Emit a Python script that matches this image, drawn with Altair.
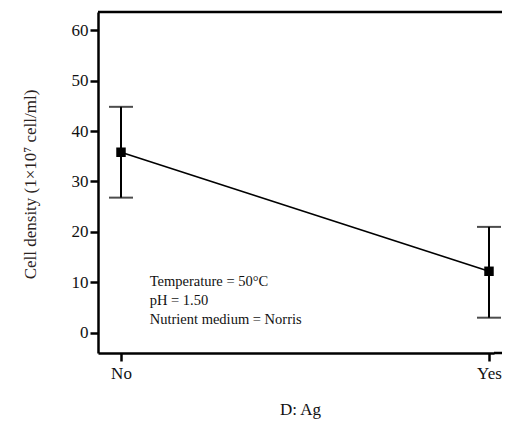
import altair as alt
import pandas as pd

groups = ["No", "Yes"]
group_pos = [0, 1]
means = [35.8, 12.2]
lows = [26.8, 3.0]
highs = [44.8, 21.0]

notes = ["Temperature = 50°C", "pH = 1.50", "Nutrient medium = Norris"]
note_x = [0.078, 0.078, 0.078]
note_y = [10.0, 6.3, 2.6]

df = pd.DataFrame({"g": groups, "x": group_pos, "m": means, "lo": lows, "hi": highs})
nd = pd.DataFrame({"t": notes, "x": note_x, "y": note_y})

FONT = "Liberation Serif"
W, H = 396, 341
xs = alt.Scale(domain=[-0.0625, 1.0136], nice=False, zero=False)
ys = alt.Scale(domain=[-4, 63.6], nice=False, zero=False)

xax = alt.Axis(values=[0, 1], labelExpr="datum.value == 0 ? 'No' : 'Yes'", title="D: Ag",
               grid=False, domain=True, domainColor="black", domainWidth=2.5,
               tickColor="black", tickWidth=2.5, tickSize=8,
               labelFont=FONT, labelFontSize=17, labelColor="#111", labelPadding=4,
               titleFont=FONT, titleFontSize=17, titleFontWeight="normal", titleColor="#111",
               titleX=202, titleY=56, titleBaseline="middle", titleAlign="center")
yax = alt.Axis(values=[0, 10, 20, 30, 40, 50, 60], title="Cell density (1×10⁷ cell/ml)",
               grid=False, domain=True, domainColor="black", domainWidth=2.5,
               tickColor="black", tickWidth=2.5, tickSize=8,
               labelFont=FONT, labelFontSize=17, labelColor="#111", labelPadding=2,
               titleFont=FONT, titleFontSize=17, titleFontWeight="normal", titleColor="#2a2220",
               titleX=-68, titleY=172, titleAngle=-90, titleBaseline="middle", titleAlign="center")

base = alt.Chart(df)
line = base.mark_line(color="black", strokeWidth=1.6).encode(
    x=alt.X("x:Q", scale=xs, axis=xax), y=alt.Y("m:Q", scale=ys, axis=yax))
rule = base.mark_rule(color="black", strokeWidth=2).encode(
    x=alt.X("x:Q", scale=xs), y=alt.Y("lo:Q", scale=ys), y2="hi:Q")
cap_lo = base.mark_tick(color="black", orient="horizontal", size=24, thickness=2).encode(
    x=alt.X("x:Q", scale=xs), y=alt.Y("lo:Q", scale=ys))
cap_hi = base.mark_tick(color="black", orient="horizontal", size=24, thickness=2).encode(
    x=alt.X("x:Q", scale=xs), y=alt.Y("hi:Q", scale=ys))
pts = base.mark_square(color="black", size=90, opacity=1).encode(
    x=alt.X("x:Q", scale=xs), y=alt.Y("m:Q", scale=ys))
txt = alt.Chart(nd).mark_text(align="left", baseline="middle", font=FONT, fontSize=14.5, color="#111").encode(
    x=alt.X("x:Q", scale=xs), y=alt.Y("y:Q", scale=ys), text="t:N")
top = alt.Chart(df.head(1)).mark_rule(color="black", strokeWidth=2.5).encode(
    x=alt.value(0), x2=alt.value(W + 8), y=alt.value(0))
bottom_ext = alt.Chart(df.head(1)).mark_rule(color="black", strokeWidth=2.5).encode(
    x=alt.value(W), x2=alt.value(W + 8), y=alt.value(H))

chart = alt.layer(line, rule, cap_lo, cap_hi, pts, txt, top, bottom_ext).properties(
    width=W, height=H,
    background="white",
    autosize=alt.AutoSizeParams(type="none"),
    padding={"left": 90, "top": 4, "right": 8, "bottom": 69},
).configure_view(stroke="transparent", strokeWidth=0)

chart.save("out.html", embed_options={"renderer": "svg", "actions": False})
